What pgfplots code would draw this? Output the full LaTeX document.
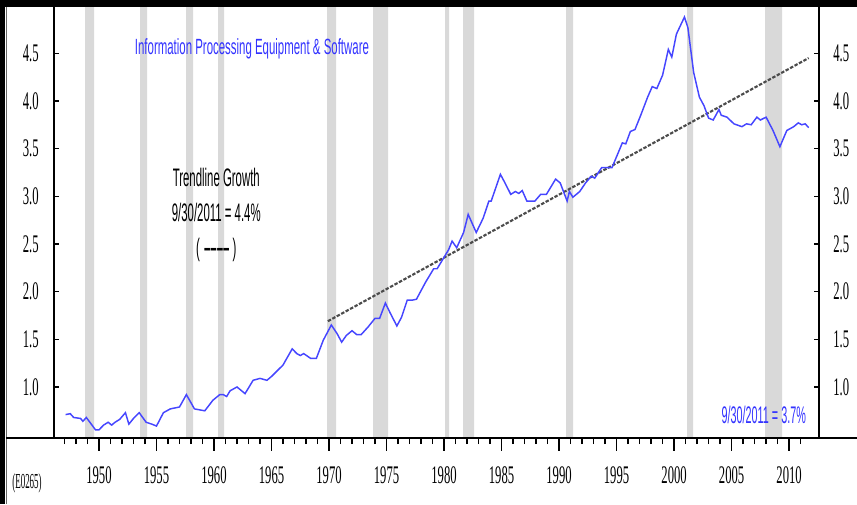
\documentclass[border=0pt]{standalone}
\usepackage{fontspec}
\setmainfont{Liberation Sans}
\newfontfamily\titlef{Liberation Sans}[FakeStretch=0.52]
\newfontfamily\trendf{Liberation Sans}[FakeStretch=0.45]
\newfontfamily\tickf{Liberation Serif}[FakeStretch=0.5]
\newfontfamily\codef{Liberation Serif}[FakeStretch=0.42]
\usepackage{pgfplots}
\pgfplotsset{compat=1.18}
\definecolor{recess}{RGB}{217,217,217}
\definecolor{lineblue}{RGB}{70,70,255}
\definecolor{textblue}{RGB}{51,51,255}
\begin{document}
\begin{tikzpicture}
\path[use as bounding box] (-40.5pt,-49.875pt) rectangle (602.25pt,328.125pt);
\pgfplotsset{common/.style={scale only axis, width=573.75pt, height=322.5pt,
  at={(0pt,0pt)}, anchor=south west, xmin=1946.09, xmax=2012.6, ymin=0.47, ymax=4.98,
  axis line style={draw=none}, tick style={black, line width=1.1pt}}}
\begin{axis}[common, clip mode=individual,
  xtick={1950,1955,...,2010},
  xticklabels={1950,1955,1960,1965,1970,1975,1980,1985,1990,1995,2000,2005,2010},
  minor xtick={1947,...,2011},
  xtick pos=bottom, xtick align=outside,
  major tick length=9.75pt, minor tick length=5pt,
  ytick=\empty,
  xticklabel style={anchor=base, inner sep=0pt, yshift=-25pt, font=\tickf\fontsize{19}{19}\selectfont}]
% recession bars
\addplot[draw=none, fill=recess, const plot] coordinates {
(1946,0.3)
(1948.79,5.5) (1949.57,0.3)
(1953.57,5.5) (1954.18,0.3)
(1957.57,5.5) (1958.18,0.3)
(1960.35,5.5) (1960.87,0.3)
(1969.83,5.5) (1970.61,0.3)
(1973.83,5.5) (1975.13,0.3)
(1980.09,5.5) (1980.44,0.3)
(1981.66,5.5) (1982.61,0.3)
(1990.61,5.5) (1991.22,0.3)
(2001.13,5.5) (2001.65,0.3)
(2007.92,5.5) (2009.40,0.3)
(2013,0.3)
} \closedcycle;
% trendline
\addplot[black!70, line width=1.6pt, dash pattern=on 2.6pt off 1.2pt] coordinates {(1969.9,1.69) (2011.7,4.45)};
% data
\addplot[lineblue, line width=1.1pt] coordinates {
(1947.1,0.71)(1947.5,0.72)(1947.8,0.68)(1948.4,0.67)(1948.6,0.64)(1948.9,0.68)
(1949.7,0.55)(1950.0,0.55)(1950.4,0.60)(1950.8,0.63)(1951.1,0.60)(1951.4,0.63)
(1951.8,0.66)(1952.3,0.73)(1952.6,0.61)(1953.0,0.67)(1953.5,0.73)(1954.1,0.63)
(1954.6,0.61)(1955.0,0.59)(1955.6,0.73)(1956.2,0.77)(1957.0,0.79)(1957.6,0.92)
(1958.3,0.77)(1959.2,0.75)(1959.9,0.86)(1960.5,0.92)(1960.8,0.92)(1961.1,0.90)
(1961.4,0.96)(1962.0,1.00)(1962.3,0.97)(1962.7,0.93)(1963.4,1.07)(1964.0,1.09)
(1964.6,1.07)(1965.0,1.11)(1966.0,1.23)(1966.8,1.40)(1967.2,1.35)(1967.5,1.33)
(1967.8,1.35)(1968.4,1.30)(1968.9,1.30)(1969.5,1.49)(1970.2,1.65)(1970.7,1.56)
(1971.1,1.47)(1971.5,1.54)(1972.0,1.59)(1972.4,1.55)(1972.8,1.55)(1973.4,1.63)
(1974.0,1.72)(1974.4,1.72)(1974.9,1.88)(1975.3,1.78)(1975.9,1.64)(1976.3,1.73)
(1976.8,1.91)(1977.2,1.91)(1977.6,1.92)(1978.4,2.10)(1979.1,2.24)(1979.4,2.24)
(1980.0,2.36)(1980.4,2.44)(1980.7,2.53)(1981.1,2.46)(1981.7,2.62)(1982.1,2.81)
(1982.8,2.62)(1983.4,2.77)(1983.9,2.95)(1984.1,2.95)(1984.9,3.23)(1985.3,3.14)
(1985.8,3.02)(1986.2,3.05)(1986.5,3.03)(1986.8,3.06)(1987.2,2.95)(1987.6,2.95)
(1987.9,2.95)(1988.4,3.02)(1988.9,3.02)(1989.7,3.18)(1990.1,3.14)(1990.7,2.95)
(1990.9,3.05)(1991.2,2.99)(1991.8,3.05)(1992.3,3.14)(1992.8,3.21)(1993.1,3.19)
(1993.7,3.30)(1994.6,3.30)(1995.5,3.56)(1995.8,3.55)(1996.2,3.68)(1996.6,3.70)
(1997.1,3.85)(1997.7,4.04)(1998.1,4.15)(1998.5,4.13)(1999.0,4.27)(1999.5,4.54)
(1999.8,4.46)(2000.2,4.70)(2000.9,4.88)(2001.2,4.77)(2001.7,4.30)(2002.2,4.04)
(2002.6,3.95)(2003.0,3.82)(2003.4,3.80)(2003.9,3.91)(2004.1,3.85)(2004.6,3.83)
(2005.2,3.76)(2005.9,3.73)(2006.3,3.76)(2006.7,3.75)(2007.2,3.83)(2007.5,3.80)
(2008.0,3.83)(2008.6,3.69)(2009.2,3.52)(2009.8,3.69)(2010.4,3.73)(2010.8,3.77)
(2011.1,3.75)(2011.4,3.76)(2011.7,3.72)
};
\node[anchor=base, textblue, font=\titlef\fontsize{16.5}{16.5}\selectfont] at (axis cs:1963.3,4.49) {Information Processing Equipment \& Software};
\node[anchor=base, black, font=\trendf\fontsize{19}{19}\selectfont] at (axis cs:1960.2,3.10) {Trendline Growth};
\node[anchor=base, black, font=\trendf\fontsize{19}{19}\selectfont] at (axis cs:1960.2,2.734) {9/30/2011 = 4.4\%};
\node[anchor=base, black, font=\trendf\fontsize{19}{19}\selectfont] at (axis cs:1960.2,2.37) {(\,\textbf{\textendash\textendash\textendash\textendash}\ )};
\node[anchor=base, textblue, font=\trendf\fontsize{18}{18}\selectfont] at (axis cs:2007.8,0.62) {9/30/2011 = 3.7\%};
\end{axis}
\begin{axis}[common, xtick=\empty,
  ytick={1.0,1.5,2.0,2.5,3.0,3.5,4.0,4.5},
  yticklabels={1.0,1.5,2.0,2.5,3.0,3.5,4.0,4.5},
  ytick pos=both, yticklabel pos=left, ytick align=inside, major tick length=3.75pt,
  yticklabel style={anchor=east, inner sep=0pt, xshift=-11.25pt, font=\tickf\fontsize{19}{19}\selectfont}]
\end{axis}
\begin{axis}[common, xtick=\empty,
  ytick={1.0,1.5,2.0,2.5,3.0,3.5,4.0,4.5},
  yticklabels={1.0,1.5,2.0,2.5,3.0,3.5,4.0,4.5},
  ytick pos=right, yticklabel pos=right, ytick style={draw=none},
  yticklabel style={anchor=west, inner sep=0pt, xshift=10.5pt, font=\tickf\fontsize{19}{19}\selectfont}]
\end{axis}
% frame
\fill[black] (-40.5pt,322.5pt) rectangle (602.25pt,328.125pt);
\fill[black] (-40.5pt,-49.875pt) rectangle (-36.5pt,328.125pt);
\draw[black!60, line width=0.6pt] (-35.4pt,-49.875pt) -- (-35.4pt,322.5pt);
\draw[black, line width=1.5pt] (-36pt,0pt) -- (602.25pt,0pt);
\draw[black, line width=1.1pt] (0pt,0pt) -- (0pt,322.5pt);
\draw[black, line width=1.1pt] (573.75pt,0pt) -- (573.75pt,322.5pt);
\node[anchor=base, inner sep=0pt, font=\codef\fontsize{16}{16}\selectfont] at (-20.25pt,-38pt) {(E0265)};
\end{tikzpicture}
\end{document}
